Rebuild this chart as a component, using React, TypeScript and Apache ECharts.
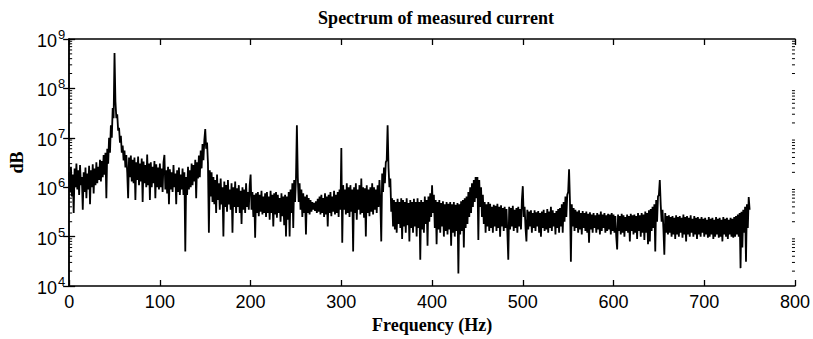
import React, { useEffect, useRef } from "react";
import * as echarts from "echarts";

// Frequency resolution of the spectrum (Hz per bin)
const freqStepHz = 1;

// Magnitude values, one per 1 Hz bin, 0 .. 750 Hz
const seg000 = [2.0e6, 8.0e5, 2.6e6, 6.5e5, 1.8e6, 3.0e5, 2.4e6, 1.0e6, 3.0e6, 9.0e5, 2.2e6, 7.0e5, 2.8e6, 1.1e6, 1.6e6, 3.5e5, 2.0e6, 8.0e5, 2.5e6, 6.0e5, 1.9e6, 9.0e5, 2.7e6, 4.5e5, 2.2e6, 1.0e6, 2.9e6, 7.5e5, 2.4e6, 1.1e6, 3.2e6, 1.2e6, 2.6e6, 1.4e6, 3.6e6, 1.3e6, 3.4e6, 1.6e6, 4.5e6, 1.8e6, 5.0e6, 6.0e5, 6.0e6, 3.0e6, 1.0e7, 5.0e6, 1.8e7, 1.0e7, 4.0e7, 2.5e7];
const seg050 = [5.2e8, 5.5e7, 2.5e7, 3.0e7, 1.4e7, 1.6e7, 8.0e6, 1.1e7, 5.0e6, 7.0e6, 3.5e6, 5.5e6, 2.5e6, 4.5e6, 2.0e6, 6.0e5, 4.0e6, 1.6e6, 4.4e6, 1.3e6, 3.6e6, 1.2e6, 4.0e6, 5.5e5, 3.2e6, 1.4e6, 4.2e6, 1.1e6, 3.0e6, 1.3e6, 3.8e6, 5.0e5, 3.3e6, 1.2e6, 2.8e6, 1.0e6, 4.6e6, 1.1e6, 3.0e6, 5.5e5, 3.2e6, 1.0e6, 2.6e6, 1.2e6, 3.4e6, 6.0e5, 2.9e6, 1.0e6, 2.5e6, 9.0e5];
const seg100 = [3.0e6, 1.0e6, 2.4e6, 8.0e5, 3.2e6, 4.5e6, 9.0e5, 2.2e6, 7.5e5, 2.6e6, 4.5e5, 2.3e6, 9.0e5, 2.0e6, 8.0e5, 2.8e6, 1.0e6, 1.9e6, 4.5e5, 2.2e6, 8.0e5, 2.5e6, 7.0e5, 1.8e6, 9.0e5, 2.4e6, 7.0e5, 2.0e6, 5.0e4, 1.6e6, 7.0e5, 2.6e6, 9.0e5, 2.2e6, 1.0e6, 3.0e6, 1.1e6, 2.8e6, 1.3e6, 3.6e6, 6.0e5, 3.2e6, 1.5e6, 4.4e6, 1.6e6, 5.5e6, 2.4e6, 7.5e6, 3.5e6, 9.0e6];
const seg150 = [1.5e7, 6.0e6, 8.0e6, 3.0e6, 1.2e5, 2.2e6, 6.5e5, 2.0e6, 5.0e5, 1.6e6, 4.5e5, 1.4e6, 3.0e5, 1.8e6, 5.5e5, 1.2e6, 3.5e5, 1.5e6, 4.5e5, 1.0e6, 1.0e5, 1.3e6, 4.0e5, 1.1e6, 3.2e5, 1.4e6, 4.5e5, 9.0e5, 3.5e5, 1.2e6, 1.2e5, 1.0e6, 4.0e5, 1.3e6, 3.0e5, 9.5e5, 4.0e5, 1.1e6, 3.0e5, 8.5e5, 1.8e5, 1.0e6, 3.5e5, 9.0e5, 3.0e5, 1.2e6, 4.0e5, 8.0e5, 3.5e5, 1.1e6];
const seg200 = [1.8e6, 3.5e5, 8.0e5, 2.5e5, 7.0e5, 9.5e4, 7.5e5, 3.0e5, 8.0e5, 2.6e5, 7.0e5, 3.2e5, 8.5e5, 2.8e5, 6.5e5, 3.0e5, 7.5e5, 2.5e5, 8.0e5, 3.0e5, 6.5e5, 2.2e5, 8.5e5, 3.0e5, 7.0e5, 1.6e5, 7.5e5, 2.8e5, 8.0e5, 2.4e5, 7.0e5, 3.0e5, 6.0e5, 2.0e5, 7.5e5, 2.6e5, 6.5e5, 1.7e5, 7.0e5, 1.0e5, 6.5e5, 2.2e5, 8.0e5, 1.0e5, 9.0e5, 3.0e5, 1.2e6, 1.5e5, 1.4e6, 5.0e5];
const seg250 = [1.5e6, 1.8e7, 1.6e6, 5.0e5, 1.2e6, 3.5e5, 9.0e5, 2.5e5, 7.5e5, 3.0e5, 6.5e5, 1.1e5, 7.0e5, 3.0e5, 6.0e5, 2.8e5, 5.5e5, 3.2e5, 5.0e5, 3.5e5, 4.8e5, 3.3e5, 5.2e5, 3.0e5, 5.8e5, 3.2e5, 6.5e5, 2.8e5, 7.0e5, 3.0e5, 6.0e5, 2.5e5, 7.5e5, 2.8e5, 6.5e5, 1.6e5, 7.0e5, 3.0e5, 8.0e5, 2.6e5, 6.5e5, 3.2e5, 8.5e5, 2.8e5, 7.0e5, 3.0e5, 8.0e5, 2.5e5, 9.0e5, 3.5e5];
const seg300 = [6.2e6, 7.5e4, 1.1e6, 3.5e5, 9.0e5, 2.8e5, 1.2e6, 3.0e5, 1.0e6, 2.5e5, 1.1e6, 3.2e5, 9.0e5, 5.0e4, 1.0e6, 3.0e5, 1.2e6, 2.2e5, 9.0e5, 3.5e5, 1.1e6, 2.8e5, 1.5e6, 3.0e5, 1.0e6, 2.4e5, 9.5e5, 1.0e5, 1.1e6, 3.0e5, 9.0e5, 2.6e5, 1.0e6, 3.2e5, 1.2e6, 2.8e5, 1.0e6, 3.5e5, 9.0e5, 3.0e5, 1.1e6, 4.0e5, 1.4e6, 5.0e5, 8.0e4, 1.9e6, 8.0e5, 2.5e6, 1.2e6, 3.2e6];
const seg350 = [3.5e6, 1.8e7, 2.5e6, 1.0e6, 1.5e6, 3.2e5, 6.0e5, 1.6e5, 5.5e5, 1.4e5, 5.0e5, 1.2e5, 5.8e5, 1.8e5, 5.0e5, 1.5e5, 6.0e5, 9.0e4, 5.5e5, 1.6e5, 5.0e5, 1.2e5, 6.0e5, 1.7e5, 4.8e5, 8.0e4, 5.5e5, 1.5e5, 5.0e5, 1.2e5, 5.8e5, 1.6e5, 5.0e5, 1.0e5, 6.0e5, 1.5e5, 5.0e5, 3.4e4, 5.5e5, 1.4e5, 5.0e5, 1.2e5, 6.5e5, 1.8e5, 5.5e5, 6.5e4, 6.5e5, 2.0e5, 7.5e5, 2.5e5];
const seg400 = [1.1e6, 3.0e5, 7.0e5, 1.5e5, 5.5e5, 7.0e4, 5.0e5, 1.4e5, 5.5e5, 1.2e5, 4.8e5, 1.6e5, 5.2e5, 1.0e5, 4.5e5, 1.3e5, 5.0e5, 1.1e5, 4.6e5, 1.4e5, 5.0e5, 6.5e4, 4.5e5, 1.2e5, 5.0e5, 1.0e5, 4.4e5, 1.3e5, 4.8e5, 1.8e4, 4.5e5, 1.1e5, 5.2e5, 1.3e5, 5.5e5, 6.0e4, 6.0e5, 1.5e5, 6.5e5, 1.8e5, 8.0e5, 2.5e5, 1.0e6, 3.0e5, 1.2e6, 4.0e5, 1.4e6, 5.0e5, 1.6e6, 6.0e5];
const seg450 = [1.6e6, 8.5e4, 1.4e6, 4.0e5, 1.0e6, 2.5e5, 7.0e5, 1.8e5, 5.0e5, 1.2e5, 4.5e5, 1.6e5, 5.0e5, 1.3e5, 4.6e5, 1.5e5, 4.0e5, 1.2e5, 4.4e5, 1.6e5, 4.2e5, 1.3e5, 4.6e5, 1.5e5, 4.0e5, 1.0e5, 4.3e5, 1.6e5, 3.8e5, 1.3e5, 4.0e5, 1.5e5, 3.6e5, 1.2e5, 3.4e4, 4.0e5, 1.4e5, 3.8e5, 1.6e5, 4.2e5, 1.3e5, 3.5e5, 1.5e5, 3.8e5, 1.2e5, 4.0e5, 1.6e5, 3.6e5, 1.4e5, 5.5e5];
const seg500 = [1.05e6, 2.5e5, 4.0e5, 1.5e5, 8.0e4, 3.5e5, 1.4e5, 3.2e5, 1.6e5, 3.4e5, 1.2e5, 3.0e5, 1.5e5, 3.4e5, 1.3e5, 3.1e5, 1.6e5, 3.3e5, 1.2e5, 3.0e5, 1.0e5, 3.2e5, 1.5e5, 3.5e5, 1.3e5, 3.0e5, 1.4e5, 3.6e5, 1.2e5, 3.2e5, 1.5e5, 4.0e5, 1.3e5, 3.4e5, 1.6e5, 3.0e5, 1.1e5, 3.3e5, 1.5e5, 3.6e5, 1.2e5, 3.8e5, 1.6e5, 4.5e5, 1.2e5, 5.0e5, 2.0e5, 6.5e5, 2.5e5, 7.0e5];
const seg550 = [8.0e5, 2.3e6, 5.0e5, 3.1e4, 4.5e5, 1.6e5, 3.8e5, 1.3e5, 3.5e5, 1.5e5, 3.2e5, 1.2e5, 3.4e5, 1.4e5, 3.0e5, 1.1e5, 3.3e5, 1.5e5, 3.0e5, 1.3e5, 3.2e5, 1.2e5, 2.9e5, 7.5e4, 3.1e5, 1.4e5, 2.8e5, 1.2e5, 3.0e5, 1.5e5, 2.7e5, 1.2e5, 3.0e5, 1.4e5, 2.8e5, 1.1e5, 3.2e5, 1.3e5, 2.8e5, 1.5e5, 3.0e5, 1.2e5, 2.7e5, 1.3e5, 2.9e5, 1.4e5, 2.8e5, 1.1e5, 3.0e5, 1.3e5];
const seg600 = [2.8e5, 1.2e5, 2.6e5, 1.0e5, 5.5e4, 2.8e5, 1.3e5, 2.6e5, 1.1e5, 2.9e5, 1.2e5, 2.7e5, 1.0e5, 2.5e5, 1.3e5, 2.8e5, 1.2e5, 2.6e5, 8.0e4, 2.9e5, 1.3e5, 2.7e5, 1.1e5, 2.8e5, 1.2e5, 2.6e5, 9.0e4, 3.0e5, 1.3e5, 2.7e5, 1.0e5, 3.0e5, 1.2e5, 2.8e5, 8.5e4, 3.2e5, 1.2e5, 3.0e5, 7.0e4, 3.4e5, 8.0e4, 3.6e5, 1.3e5, 4.0e5, 1.5e5, 4.5e5, 5.0e4, 5.5e5, 2.0e5, 6.5e5];
const seg650 = [7.0e5, 1.4e6, 4.5e5, 2.0e5, 3.5e5, 1.4e5, 4.3e4, 3.0e5, 1.2e5, 2.6e5, 1.1e5, 2.7e5, 1.2e5, 2.5e5, 1.0e5, 2.6e5, 1.1e5, 2.4e5, 9.0e4, 2.7e5, 1.1e5, 2.5e5, 1.0e5, 2.6e5, 1.2e5, 2.4e5, 9.5e4, 2.8e5, 1.1e5, 2.5e5, 8.0e4, 2.6e5, 1.1e5, 2.4e5, 1.0e5, 2.7e5, 1.2e5, 2.3e5, 1.0e5, 2.6e5, 1.1e5, 2.4e5, 9.0e4, 2.5e5, 1.1e5, 2.3e5, 1.0e5, 2.5e5, 1.2e5, 2.3e5];
const seg700 = [1.0e5, 2.4e5, 1.1e5, 2.2e5, 9.5e4, 2.5e5, 1.0e5, 2.3e5, 1.1e5, 2.4e5, 9.0e4, 2.2e5, 1.0e5, 2.5e5, 1.1e5, 2.3e5, 9.5e4, 2.4e5, 1.0e5, 2.2e5, 8.0e4, 2.5e5, 1.1e5, 2.3e5, 1.0e5, 2.4e5, 9.0e4, 2.2e5, 1.1e5, 2.4e5, 1.0e5, 2.3e5, 9.5e4, 2.5e5, 1.0e5, 2.6e5, 1.1e5, 2.8e5, 1.0e5, 3.0e5, 2.3e4, 3.2e5, 6.0e4, 3.5e5, 1.2e5, 4.0e5, 3.1e4, 4.5e5, 1.5e5, 6.3e5, 3.5e5];

const spectrum = [
  ...seg000, ...seg050, ...seg100, ...seg150, ...seg200, ...seg250, ...seg300,
  ...seg350, ...seg400, ...seg450, ...seg500, ...seg550, ...seg600, ...seg650, ...seg700,
];

// Axis ticks
const xTicksHz = [0, 100, 200, 300, 400, 500, 600, 700, 800];
const yDecadeExponents = [4, 5, 6, 7, 8, 9];
const minorMultipliers = [2, 3, 4, 5, 6, 7, 8, 9];

const titleText = "Spectrum of measured current";
const xName = "Frequency (Hz)";
const yName = "dB";

export default function App() {
  const ref = useRef<HTMLDivElement>(null);

  useEffect(() => {
    if (!ref.current) return;
    const chart = echarts.init(ref.current, null, { renderer: "svg" });

    const lineData = spectrum.map((v, i) => [i * freqStepHz, v]);
    const minorTicks: number[][] = [];
    yDecadeExponents.slice(0, -1).forEach((e) => {
      minorMultipliers.forEach((m) => minorTicks.push([0, m * Math.pow(10, e)]));
    });

    const serifBold = { fontFamily: "Liberation Serif", fontWeight: "bold" as const, color: "#000" };
    const sans = "Liberation Sans";
    const xMin = xTicksHz[0];
    const xMax = xTicksHz[xTicksHz.length - 1];
    const yMin = Math.pow(10, yDecadeExponents[0]);
    const yMax = Math.pow(10, yDecadeExponents[yDecadeExponents.length - 1]);

    const commonX = {
      type: "value" as const,
      min: xMin,
      max: xMax,
      interval: 100,
      splitLine: { show: false },
      axisLine: { show: true, onZero: false, lineStyle: { color: "#000", width: 1.5 } },
      axisTick: { show: true, inside: true, length: 6, lineStyle: { color: "#000", width: 1.3 } },
    };
    const commonY = {
      type: "log" as const,
      logBase: 10,
      min: yMin,
      max: yMax,
      splitLine: { show: false },
      axisLine: { show: true, lineStyle: { color: "#000", width: 1.5 } },
      axisTick: { show: true, inside: true, length: 6, lineStyle: { color: "#000", width: 1.3 } },
    };

    chart.setOption({
      animation: false,
      backgroundColor: "#fff",
      title: {
        text: titleText,
        left: 431,
        textAlign: "center",
        top: 4,
        textStyle: { ...serifBold, fontSize: 18 },
      },
      grid: { left: 66, right: 17, top: 39, bottom: 53 },
      xAxis: [
        {
          ...commonX,
          position: "bottom",
          name: xName,
          nameLocation: "middle",
          nameGap: 30,
          nameTextStyle: { ...serifBold, fontSize: 18 },
          axisLabel: { color: "#000", fontFamily: sans, fontSize: 18, margin: 7 },
        },
        { ...commonX, position: "top", axisLabel: { show: false } },
      ],
      yAxis: [
        {
          ...commonY,
          position: "left",
          name: yName,
          nameLocation: "middle",
          nameGap: 40,
          nameTextStyle: { ...serifBold, fontSize: 18 },
          axisLabel: {
            color: "#000",
            margin: 4,
            formatter: (v: number) => `{b|10}{s|${Math.round(Math.log10(v))}}`,
            rich: {
              b: { fontFamily: sans, fontSize: 18, color: "#000", verticalAlign: "bottom", padding: [0, 0, 0, 0] },
              s: { fontFamily: sans, fontSize: 13, color: "#000", verticalAlign: "bottom", padding: [0, 0, 9, 1] },
            },
          },
        },
        { ...commonY, position: "right", axisLabel: { show: false } },
      ],
      series: [
        {
          type: "line",
          data: lineData,
          showSymbol: false,
          symbol: "none",
          lineStyle: { color: "#000", width: 1.8 },
          xAxisIndex: 0,
          yAxisIndex: 0,
          z: 3,
        },
        {
          type: "custom",
          xAxisIndex: 0,
          yAxisIndex: 0,
          data: minorTicks,
          encode: { x: 0, y: 1 },
          silent: true,
          z: 4,
          renderItem: (params: any, api: any) => {
            const y = api.coord([0, api.value(1)])[1];
            const cs = params.coordSys;
            const left = cs.x;
            const right = cs.x + cs.width;
            return {
              type: "group",
              children: [
                { type: "line", shape: { x1: left, y1: y, x2: left + 3, y2: y }, style: { stroke: "#000", lineWidth: 1 } },
                { type: "line", shape: { x1: right - 3, y1: y, x2: right, y2: y }, style: { stroke: "#000", lineWidth: 1 } },
              ],
            };
          },
        },
      ],
    });

    return () => chart.dispose();
  }, []);

  return (
    <div
      ref={ref}
      style={{ position: "fixed", left: 0, top: 0, width: 813, height: 339, background: "#fff" }}
    />
  );
}
